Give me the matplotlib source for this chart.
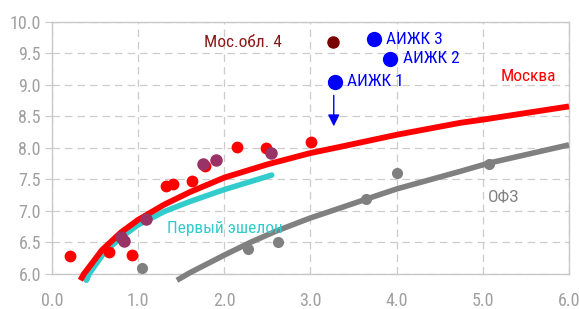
import matplotlib
matplotlib.use('Agg')
import matplotlib.pyplot as plt
from matplotlib import font_manager

# шрифт: узкий, если есть
fonte = 'DejaVu Sans'
for nome in ['Roboto Condensed', 'Liberation Sans Narrow', 'Roboto']:
    try:
        font_manager.findfont(nome, fallback_to_default=False)
        fonte = nome
        break
    except Exception:
        pass
plt.rcParams['font.family'] = [fonte, 'DejaVu Sans']

# Москва (кривая)
moskva_x = [0.33, 0.37, 0.58, 0.8, 1.0, 1.3, 1.6, 2.0, 2.5, 3.0, 3.35, 4.0, 4.74, 5.0, 6.0]
moskva_y = [5.90, 6.00, 6.38, 6.66, 6.86, 7.10, 7.30, 7.53, 7.74, 7.92, 8.02, 8.21, 8.40, 8.45, 8.66]

# Первый эшелон (кривая)
eshelon_x = [0.40, 0.43, 0.60, 0.8, 1.0, 1.3, 1.6, 2.0, 2.55]
eshelon_y = [5.90, 6.00, 6.33, 6.58, 6.78, 6.99, 7.15, 7.34, 7.57]

# ОФЗ (кривая)
ofz_x = [1.45, 1.6, 2.0, 2.3, 2.6, 3.0, 3.35, 3.65, 4.0, 4.74, 5.07, 6.0]
ofz_y = [5.90, 6.02, 6.30, 6.50, 6.68, 6.89, 7.05, 7.19, 7.35, 7.63, 7.76, 8.05]

# точки
vermelho_x = [0.21, 0.66, 0.93, 1.32, 1.40, 1.63, 1.78, 2.15, 2.48, 3.01]
vermelho_y = [6.28, 6.35, 6.30, 7.40, 7.43, 7.47, 7.71, 8.02, 8.00, 8.09]

roxo_x = [0.80, 0.83, 1.09, 1.75, 1.90, 2.54]
roxo_y = [6.59, 6.52, 6.87, 7.75, 7.81, 7.92]

cinza_x = [1.04, 2.28, 2.62, 3.65, 4.00, 5.07]
cinza_y = [6.10, 6.40, 6.51, 7.19, 7.60, 7.75]

aijk_x = [3.29, 3.92, 3.74]
aijk_y = [9.05, 9.42, 9.73]
aijk_nomes = ['АИЖК 1', 'АИЖК 2', 'АИЖК 3']

mosobl_x = [3.26]
mosobl_y = [9.68]

xticks = [0, 1, 2, 3, 4, 5, 6]
yticks = [6.0, 6.5, 7.0, 7.5, 8.0, 8.5, 9.0, 9.5, 10.0]

fig = plt.figure(figsize=(5.79, 3.09), dpi=100)
ax = fig.add_axes([0.0898, 0.1133, 0.8929, 0.8155])

ax.set_xlim(0, 6)
ax.set_ylim(6, 10)

ax.grid(True, color='#cccccc', linestyle=(0, (6, 4)), linewidth=0.9)
ax.set_axisbelow(True)
for s in ax.spines.values():
    s.set_color('#c8c8c8')
    s.set_linewidth(1.0)

ax.set_xticks(xticks)
ax.set_xticklabels([f'{v:.1f}' for v in xticks])
ax.set_yticks(yticks)
ax.set_yticklabels([f'{v:.1f}' for v in yticks])
ax.tick_params(axis='x', length=0, pad=13, labelsize=13, labelcolor='#a0a0a0')
ax.tick_params(axis='y', length=5, color='#c8c8c8', pad=3, labelsize=13, labelcolor='#a0a0a0')

# кривые
ax.plot(ofz_x, ofz_y, color='#808080', lw=4.0, solid_capstyle='butt', solid_joinstyle='round', clip_on=False, zorder=3)
ax.plot(eshelon_x, eshelon_y, color='#33cccc', lw=4.0, solid_capstyle='round', solid_joinstyle='round', clip_on=False, zorder=3)
ax.plot(moskva_x, moskva_y, color='#ff0000', lw=4.2, solid_capstyle='butt', solid_joinstyle='round', clip_on=False, zorder=3)

# точки
ax.plot(cinza_x, cinza_y, 'o', color='#808080', ms=8, mec='none', zorder=4)
ax.plot(vermelho_x, vermelho_y, 'o', color='#ff0000', ms=8.5, mec='none', zorder=4)
ax.plot(roxo_x, roxo_y, 'o', color='#993366', ms=9, mec='none', zorder=5)
ax.plot(mosobl_x, mosobl_y, 'o', color='#7a0000', ms=9, mec='none', zorder=5)
ax.plot(aijk_x, aijk_y, 'o', color='#0000ff', ms=11, mec='none', zorder=5)

# стрелка от АИЖК 1
ax.annotate('', xy=(aijk_x[0] - 0.02, 8.3), xytext=(aijk_x[0] - 0.02, 8.88),
            arrowprops=dict(arrowstyle='-|>,head_length=0.7,head_width=0.35',
                            color='#0000ff', lw=1.0), zorder=5)

# подписи
ax.text(aijk_x[0] + 0.13, aijk_y[0], aijk_nomes[0], color='#0000ff', fontsize=12.5, va='center', ha='left')
ax.text(aijk_x[1] + 0.15, aijk_y[1], aijk_nomes[1], color='#0000ff', fontsize=12.5, va='center', ha='left')
ax.text(aijk_x[2] + 0.14, aijk_y[2], aijk_nomes[2], color='#0000ff', fontsize=12.5, va='center', ha='left')
ax.text(2.22, 9.68, 'Мос.обл. 4', color='#8b1a1a', fontsize=12.5, va='center', ha='center')
ax.text(5.53, 9.14, 'Москва', color='#ff0000', fontsize=12.5, va='center', ha='center')
ax.text(2.01, 6.73, 'Первый эшелон', color='#33cccc', fontsize=12.5, va='center', ha='center')
ax.text(5.24, 7.21, 'ОФЗ', color='#808080', fontsize=12.5, va='center', ha='center')

fig.savefig('out.png', dpi=100)
